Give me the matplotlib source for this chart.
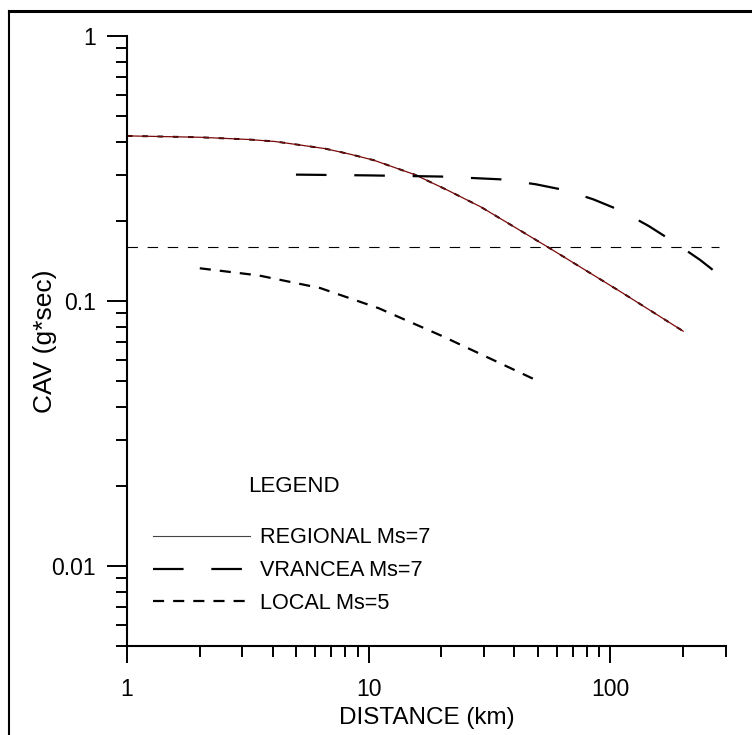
import matplotlib.pyplot as plt
import matplotlib.ticker as ticker
from matplotlib.lines import Line2D

plt.rcParams['font.family'] = ['Liberation Sans', 'DejaVu Sans']
plt.rcParams['lines.scale_dashes'] = False

# curves
regional_x = [1, 2, 3.2, 4.1, 5.2, 6.6, 8.4, 10.5, 15.5, 21.2, 29, 35.3, 55, 111, 200]
regional_y = [0.42, 0.415, 0.407, 0.400, 0.388, 0.376, 0.358, 0.34, 0.30, 0.262, 0.227, 0.204, 0.16, 0.108, 0.077]

vrancea_x = [5, 10, 20, 35, 49, 65, 85, 111, 144, 185, 235, 300]
vrancea_y = [0.30, 0.298, 0.295, 0.288, 0.276, 0.262, 0.242, 0.219, 0.192, 0.166, 0.143, 0.12]

local_x = [2, 3.5, 6.3, 11, 20, 34, 50]
local_y = [0.133, 0.125, 0.112, 0.094, 0.074, 0.059, 0.05]

threshold_x = [1, 280]
threshold_y = [0.16, 0.16]

labels = ['REGIONAL Ms=7', 'VRANCEA Ms=7', 'LOCAL Ms=5']
x_ticks = [1, 10, 100]
x_ticklabels = ['1', '10', '100']
y_ticks = [0.01, 0.1, 1]
y_ticklabels = ['0.01', '0.1', '1']

fig = plt.figure(figsize=(7.52, 7.35), dpi=100)
ax = fig.add_axes([0.1689, 0.1211, 0.7962, 0.8299])

# frame round the figure (only left and top are visible)
fig.add_artist(Line2D([8.5 / 752, 8.5 / 752], [0, 1 - 10.5 / 735], color='black', lw=1.5,
                      transform=fig.transFigure))
fig.add_artist(Line2D([8.5 / 752, 1], [1 - 10.5 / 735, 1 - 10.5 / 735], color='black', lw=2.2,
                      transform=fig.transFigure))

ax.plot(threshold_x, threshold_y, color='black', lw=0.8, dashes=(7.5, 7))
ax.plot(regional_x, regional_y, color='black', lw=1.4, dashes=(4, 7))
ax.plot(regional_x, regional_y, color='#7a0a0a', lw=0.9)
ax.plot(vrancea_x, vrancea_y, color='black', lw=1.6, dashes=(22, 20))
ax.plot(local_x, local_y, color='black', lw=1.6, dashes=(8, 6.5))

ax.set_xscale('log')
ax.set_yscale('log')
ax.set_xlim(1, 300)
ax.set_ylim(0.005, 1)

ax.xaxis.set_major_locator(ticker.FixedLocator(x_ticks))
ax.xaxis.set_major_formatter(ticker.FixedFormatter(x_ticklabels))
ax.xaxis.set_minor_locator(ticker.LogLocator(base=10, subs=range(2, 10), numticks=20))
ax.xaxis.set_minor_formatter(ticker.NullFormatter())
ax.yaxis.set_major_locator(ticker.FixedLocator(y_ticks))
ax.yaxis.set_major_formatter(ticker.FixedFormatter(y_ticklabels))
ax.yaxis.set_minor_locator(ticker.LogLocator(base=10, subs=range(2, 10), numticks=20))
ax.yaxis.set_minor_formatter(ticker.NullFormatter())

ax.spines['top'].set_visible(False)
ax.spines['right'].set_visible(False)
ax.spines['left'].set_linewidth(1.5)
ax.spines['bottom'].set_linewidth(1.5)

ax.tick_params(axis='y', which='major', direction='out', length=14.4, width=1.4, pad=8, labelsize=16.5)
ax.tick_params(axis='y', which='minor', direction='out', length=8, width=1.4)
ax.tick_params(axis='x', which='major', direction='out', length=12.2, width=1.4, pad=11, labelsize=16.5)
ax.tick_params(axis='x', which='minor', direction='out', length=8, width=1.4)

ax.set_xlabel('DISTANCE (km)', fontsize=17.5, labelpad=4)
ax.set_ylabel('CAV (g*sec)', fontsize=19, labelpad=-4)

handles = [
    Line2D([], [], color='#444444', lw=0.8),
    Line2D([], [], color='black', lw=1.6, dashes=(22, 20)),
    Line2D([], [], color='black', lw=1.6, dashes=(8, 6.5)),
]
ax.legend(handles, labels, loc='center left', bbox_to_anchor=(0.0434, 0.1235), frameon=False,
          borderpad=0, borderaxespad=0, handlelength=4.47, handletextpad=0.46,
          labelspacing=0.55, fontsize=15.6)
ax.text(0.279, 0.2607, 'LEGEND', transform=ax.transAxes, ha='center', va='center', fontsize=16)

plt.savefig('out.png', dpi=100)
